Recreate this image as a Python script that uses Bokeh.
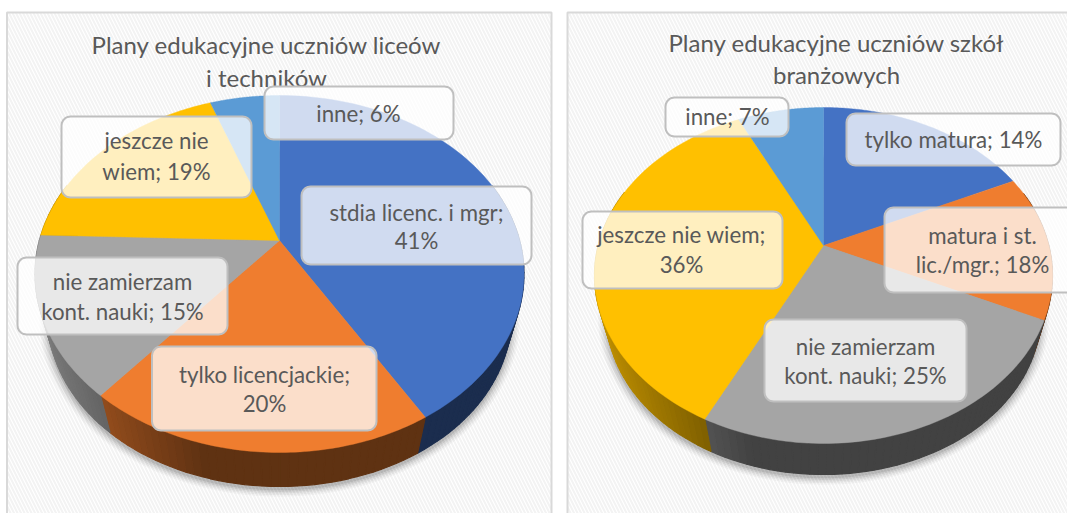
import numpy as np
from bokeh.plotting import figure
from bokeh.embed import file_html
from bokeh.resources import INLINE
from bokeh.core.properties import value
from bokeh.colors import RGB

# Data (slice shares as drawn; labels as printed)
slices_left = [41.5, 19.5, 14.5, 19, 5.5]
slices_right = [18, 14, 25.3, 35.5, 7.2]
colors = ["#4472C4", "#EF7D2F", "#A5A5A5", "#FFC000", "#5B9BD5"]
title_left = ["Plany edukacyjne uczniów liceów", "i techników"]
title_right = ["Plany edukacyjne uczniów szkół", "branżowych"]
labels_left = [["stdia licenc. i mgr;", "41%"], ["tylko licencjackie;", "20%"],
               ["nie zamierzam", "kont. nauki; 15%"], ["jeszcze nie", "wiem; 19%"], ["inne; 6%"]]
labels_right = [["tylko matura; 14%"], ["matura i st.", "lic./mgr.; 18%"],
                ["nie zamierzam", "kont. nauki; 25%"], ["jeszcze nie wiem;", "36%"], ["inne; 7%"]]

# Layout (page pixels of the reference)
boxes_left = [(301, 531, 186, 264), (151.5, 376, 346, 430), (17, 227, 257, 334), (61, 251, 116, 197), (264, 453, 86, 139)]
boxes_right = [(846, 1060, 113, 165), (884, 1075, 207, 292), (764, 966, 319, 401), (582, 782, 211, 288), (665, 788, 97, 136)]
text_left = [(416, (211.5, 239.5)), (264, (373.5, 402.5)), (122, (280.5, 310.5)), (156, (139.5, 170.5)), (358, (112.5,))]
text_right = [(953, (138.5,)), (982, (234.5, 263.5)), (865, (345.5, 374.5)), (681, (233.5, 263.5)), (727, (115.5,))]
FONT = value("Lato")
TXT = "#595959"

p = figure(width=1067, height=513, x_range=(0, 1067), y_range=(513, 0), toolbar_location=None,
           output_backend="svg", min_border=0, outline_line_color=None, background_fill_color="white")
p.axis.visible = False
p.grid.visible = False

def rounded(l, r, t, b, rad=9, n=6):
    xs, ys = [], []
    for cx, cy, a0 in [(r - rad, t + rad, -90), (r - rad, b - rad, 0), (l + rad, b - rad, 90), (l + rad, t + rad, 180)]:
        a = np.radians(np.linspace(a0, a0 + 90, n))
        xs += list(cx + rad * np.cos(a))
        ys += list(cy + rad * np.sin(a))
    return xs, ys

def pie(vals, cx, cy, up, down, rx, depth, labels, boxes, texts, title, tx, ty):
    k = (down - up) / (down + up)
    S = up * (1 + k)
    R = rx * np.sqrt(1 - k * k)
    s = 0.947
    vp = (cy + down + depth - s * (cy + down)) / (1 - s)
    def top(th):
        u, v = np.sin(th), np.cos(th)
        d = 1 + k * v
        return cx + R * u / d, cy - S * v / d
    def bot(th):
        x, y = top(th)
        return cx + s * (x - cx), vp + s * (y - vp)
    for i, line in enumerate(title):
        p.text([tx], [ty[i]], text=[line], text_font=FONT, text_font_size="24px", text_color=TXT,
               text_align="center", text_baseline="middle")
    fr = np.cumsum(vals) / float(np.sum(vals))
    edges = np.concatenate([[0.0], fr]) * 2 * np.pi
    # soft shadow
    th = np.linspace(0, 2 * np.pi, 181)
    bx, by = bot(th)
    for g, a in [(9, .03), (7, .04), (5, .05), (3, .07), (1, .09)]:
        sx = cx + (bx - cx) * (1 + g / rx)
        sy = (by.min() + by.max()) / 2 + (by - (by.min() + by.max()) / 2) * (1 + g / down) + 3
        p.patch(sx, sy, fill_color="#000000", fill_alpha=a, line_color=None)
    # rim
    qx, qy, qc = [], [], []
    for i in range(len(vals)):
        a0, a1 = edges[i], edges[i + 1]
        n = max(2, int((a1 - a0) / 0.03))
        ts = np.linspace(a0, a1, n)
        base = np.array([int(colors[i][j:j + 2], 16) for j in (1, 3, 5)])
        for t0, t1 in zip(ts[:-1], ts[1:]):
            if np.cos((t0 + t1) / 2) > 0.35:
                continue
            x0, y0 = top(t0); x1, y1 = top(t1)
            x2, y2 = bot(t1); x3, y3 = bot(t0)
            f = (x0 - cx) / rx
            shade = 0.40 if f > -0.3 else 0.40 + (-0.3 - f) * 0.5
            c = base * shade
            qx.append([x0, x1, x2, x3]); qy.append([y0, y1, y2, y3])
            qc.append(RGB(int(c[0]), int(c[1]), int(c[2])).to_hex())
    p.patches(qx, qy, fill_color=qc, line_color=qc, line_width=1.2)
    # face
    for i in range(len(vals)):
        ts = np.linspace(edges[i], edges[i + 1], 80)
        x, y = top(ts)
        p.patch(np.r_[cx, x], np.r_[cy, y], fill_color=colors[i], line_color=colors[i], line_width=0.4)
    # labels
    for (l, r, t, b), (lx, ly), lab in zip(boxes, texts, labels):
        xs, ys = rounded(l, r, t, b)
        p.patch(xs, ys, fill_color="white", fill_alpha=0.75, line_color="#BFBFBF", line_width=2)
        for line, yy in zip(lab, ly):
            p.text([lx], [yy], text=[line], text_font=FONT, text_font_size="22.3px", text_color=TXT,
                   text_align="center", text_baseline="middle")

# panels with a faint diagonal pattern
for l, r in [(6.5, 551), (567, 1075)]:
    p.quad(left=[l], right=[r], top=[12], bottom=[520], fill_color="white", line_color="#D9D9D9", line_width=2,
           hatch_pattern="left_diagonal_line", hatch_color="#F3F3F3", hatch_scale=7, hatch_weight=2)

pie(slices_left, 279, 240, 145, 212, 244.5, 34, labels_left, boxes_left, text_left, title_left, 266, (44, 77))
pie(slices_right, 823, 245, 138, 198, 229, 31, labels_right, boxes_right, text_right, title_right, 836, (42, 74))

open("out.html", "w").write(file_html(p, INLINE))
